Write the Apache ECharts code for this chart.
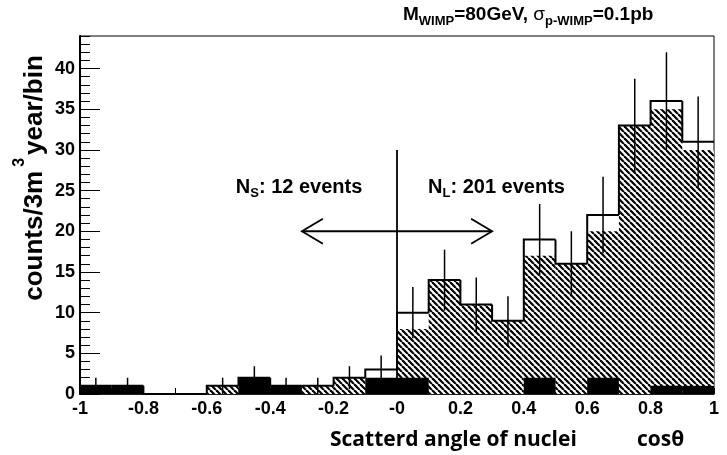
<!DOCTYPE html>
<html>
<head>
<meta charset="utf-8">
<script src="https://cdn.jsdelivr.net/npm/echarts@6/dist/echarts.min.js"></script>
<style>
  html, body { margin: 0; padding: 0; background: #fff; }
  #chart { width: 727px; height: 455px; }
</style>
</head>
<body>
<div id="chart"></div>
<script>
// Histogram bins in cos(theta): lower edges, all 0.1 wide
const binEdges = [-1, -0.9, -0.8, -0.7, -0.6, -0.5, -0.4, -0.3, -0.2, -0.1,
                  0, 0.1, 0.2, 0.3, 0.4, 0.5, 0.6, 0.7, 0.8, 0.9];
const binWidth = 0.1;

// Expected counts per bin (total = signal + background)
const totalCounts      = [1, 1, 0, 0, 1, 2, 1, 1, 2, 3, 10, 14, 11, 9, 19, 16, 22, 33, 36, 31];
const signalCounts     = [0, 0, 0, 0, 1, 0, 0, 1, 2, 1, 8, 14, 11, 9, 17, 16, 20, 33, 35, 30];
const backgroundCounts = [1, 1, 0, 0, 0, 2, 1, 0, 0, 2, 2, 0, 0, 0, 2, 0, 2, 0, 1, 1];

// Axis ticks
const xTickValues = [-1, -0.8, -0.6, -0.4, -0.2, 0, 0.2, 0.4, 0.6, 0.8, 1];
const xTickLabels = ['-1', '-0.8', '-0.6', '-0.4', '-0.2', '-0', '0.2', '0.4', '0.6', '0.8', '1'];
const yMajorTicks = [0, 5, 10, 15, 20, 25, 30, 35, 40];

// Forward / backward split annotation
const cutX = 0;
const cutTop = 30;
const arrowSpan = [-0.3, 0.3];
const arrowLevel = 20;
const nsLabelAt = [-0.309, 25.4];
const nlLabelAt = [0.314, 25.4];

const FONT = "'Liberation Sans', Arial, Helvetica, sans-serif";
const NAME_FONT = "'Open Sans', Lato, sans-serif";

// diagonal "\" hatching used for the signal component
function hatchPattern() {
  const size = 6;
  const cv = document.createElement('canvas');
  cv.width = size; cv.height = size;
  const ctx = cv.getContext('2d');
  ctx.fillStyle = '#fff';
  ctx.fillRect(0, 0, size, size);
  ctx.strokeStyle = '#000';
  ctx.lineWidth = 2.2;
  for (const off of [-size, 0, size]) {
    ctx.beginPath();
    ctx.moveTo(off, 0);
    ctx.lineTo(off + size, size);
    ctx.stroke();
  }
  return { image: cv, repeat: 'repeat' };
}
const hatch = hatchPattern();

function barRenderer(fill) {
  return function (params, api) {
    const lo = api.value(0), v = api.value(1);
    if (!v) return null;
    const p0 = api.coord([lo, 0]);
    const p1 = api.coord([lo + binWidth, v]);
    return {
      type: 'rect',
      shape: { x: p0[0], y: p1[1], width: p1[0] - p0[0], height: p0[1] - p1[1] },
      style: { fill: fill }
    };
  };
}

const chart = echarts.init(document.getElementById('chart'), null, { renderer: 'canvas' });

chart.setOption({
  animation: false,
  backgroundColor: '#fff',
  grid: {
    left: 80, right: 13, top: 36, bottom: 61,
    show: true, borderColor: '#000', borderWidth: 1, backgroundColor: 'transparent'
  },
  xAxis: {
    type: 'value',
    min: -1, max: 1, interval: 0.2,
    axisLine: { show: true, onZero: false, lineStyle: { color: '#000', width: 1.5 } },
    axisTick: { show: true, inside: true, length: 6, lineStyle: { color: '#000', width: 1 } },
    minorTick: { show: true, splitNumber: 2, length: 6, lineStyle: { color: '#000', width: 1 } },
    splitLine: { show: false },
    axisLabel: {
      color: '#000', fontFamily: FONT, fontWeight: 'bold', fontSize: 18, margin: 6,
      formatter: function (v) {
        const k = xTickValues.findIndex(t => Math.abs(t - v) < 1e-6);
        return k >= 0 ? xTickLabels[k] : '';
      }
    }
  },
  yAxis: [
    {
      type: 'value',
      min: 0, max: 44, interval: 5,
      position: 'left',
      axisLine: { show: true, onZero: false, lineStyle: { color: '#000', width: 2 } },
      axisTick: { show: true, inside: true, length: 20, customValues: yMajorTicks, lineStyle: { color: '#000', width: 1 } },
      splitLine: { show: false },
      axisLabel: {
        color: '#000', fontFamily: FONT, fontWeight: 'bold', fontSize: 18, margin: 5,
        customValues: yMajorTicks
      }
    },
    {
      type: 'value',
      min: 0, max: 44, interval: 1,
      position: 'left', offset: 0,
      axisLine: { show: false, onZero: false },
      axisTick: { show: true, inside: true, length: 10, lineStyle: { color: '#000', width: 1 } },
      splitLine: { show: false },
      axisLabel: { show: false }
    }
  ],
  graphic: [
    {
      type: 'text', left: 403, top: 5,
      style: {
        text: '{m|M}{s|WIMP}{m|=80GeV, }{g|σ}{s|p-WIMP}{m|=0.1pb}',
        rich: {
          m: { fontFamily: FONT, fontWeight: 'bold', fontSize: 19, lineHeight: 27, verticalAlign: 'middle', fill: '#000' },
          g: { fontFamily: FONT, fontSize: 19, lineHeight: 27, verticalAlign: 'middle', fill: '#000' },
          s: { fontFamily: FONT, fontWeight: 'bold', fontSize: 13, lineHeight: 13, verticalAlign: 'bottom', fill: '#000' }
        }
      }
    },
    {
      type: 'text', x: 30, y: 178, rotation: Math.PI / 2,
      style: {
        text: '{t|counts/3m}{p|3}{t|year/bin}',
        align: 'center', verticalAlign: 'middle',
        rich: {
          t: { fontFamily: FONT, fontWeight: 'bold', fontSize: 26, lineHeight: 36, verticalAlign: 'bottom', fill: '#000' },
          p: { fontFamily: FONT, fontWeight: 'bold', fontSize: 16, lineHeight: 16, verticalAlign: 'top', padding: [0, 3, 0, 4], fill: '#000' }
        }
      }
    },
    {
      type: 'text', left: 330, top: 430,
      style: {
        text: 'Scatterd angle of nuclei',
        fontFamily: NAME_FONT, fontWeight: 'bold', fontSize: 21, fill: '#000'
      }
    },
    {
      type: 'text', left: 637, top: 430,
      style: {
        text: 'cosθ',
        fontFamily: NAME_FONT, fontWeight: 'bold', fontSize: 21, fill: '#000'
      }
    }
  ],
  series: [
    {
      // signal component, hatched
      type: 'custom',
      xAxisIndex: 0, yAxisIndex: 0,
      renderItem: barRenderer(hatch),
      data: binEdges.map((e, i) => [e, signalCounts[i]])
    },
    {
      // background component, solid black
      type: 'custom',
      xAxisIndex: 0, yAxisIndex: 0,
      renderItem: barRenderer('#000'),
      data: binEdges.map((e, i) => [e, backgroundCounts[i]])
    },
    {
      // total histogram outline
      type: 'custom',
      xAxisIndex: 0, yAxisIndex: 0,
      renderItem: function (params, api) {
        const lo = api.value(0), v = api.value(1), prev = api.value(2);
        const a = api.coord([lo, prev]);
        const b = api.coord([lo, v]);
        const c = api.coord([lo + binWidth, v]);
        return {
          type: 'polyline',
          shape: { points: [a, b, c] },
          style: { stroke: '#000', lineWidth: 2, fill: null }
        };
      },
      data: binEdges.map((e, i) => [e, totalCounts[i], i > 0 ? totalCounts[i - 1] : 0])
    },
    {
      // Poisson error bars on the total
      type: 'custom',
      xAxisIndex: 0, yAxisIndex: 0,
      renderItem: function (params, api) {
        const lo = api.value(0), v = api.value(1);
        if (!v) return null;
        const err = Math.sqrt(v);
        const xc = lo + binWidth / 2;
        const top = api.coord([xc, v + err]);
        const bot = api.coord([xc, Math.max(0, v - err)]);
        return {
          type: 'line',
          shape: { x1: top[0], y1: top[1], x2: bot[0], y2: bot[1] },
          style: { stroke: '#000', lineWidth: 1.5 }
        };
      },
      data: binEdges.map((e, i) => [e, totalCounts[i]])
    },
    {
      // split line at cos = 0 with the two-way arrow and event counts
      type: 'custom',
      xAxisIndex: 0, yAxisIndex: 0,
      renderItem: function (params, api) {
        const c0 = api.coord([cutX, 0]);
        const c1 = api.coord([cutX, cutTop]);
        const L = api.coord([arrowSpan[0], arrowLevel]);
        const R = api.coord([arrowSpan[1], arrowLevel]);
        const hx = 21, hy = 12.5;
        const ns = api.coord(nsLabelAt);
        const nl = api.coord(nlLabelAt);
        const stroke = { stroke: '#000', lineWidth: 1.8, fill: null };
        const labelRich = {
          n: { fontFamily: FONT, fontWeight: 'bold', fontSize: 20, lineHeight: 26, verticalAlign: 'middle', fill: '#000' },
          s: { fontFamily: FONT, fontWeight: 'bold', fontSize: 13, lineHeight: 13, verticalAlign: 'bottom', fill: '#000' }
        };
        return {
          type: 'group',
          children: [
            { type: 'line', shape: { x1: c0[0], y1: c0[1], x2: c1[0], y2: c1[1] }, style: stroke },
            { type: 'line', shape: { x1: L[0], y1: L[1], x2: R[0], y2: R[1] }, style: stroke },
            { type: 'polyline', shape: { points: [[L[0] + hx, L[1] - hy], L, [L[0] + hx, L[1] + hy]] }, style: stroke },
            { type: 'polyline', shape: { points: [[R[0] - hx, R[1] - hy], R, [R[0] - hx, R[1] + hy]] }, style: stroke },
            {
              type: 'text', x: ns[0], y: ns[1],
              style: { text: '{n|N}{s|S}{n|: 12 events}', align: 'center', verticalAlign: 'middle', rich: labelRich }
            },
            {
              type: 'text', x: nl[0], y: nl[1],
              style: { text: '{n|N}{s|L}{n|: 201 events}', align: 'center', verticalAlign: 'middle', rich: labelRich }
            }
          ]
        };
      },
      data: [[0]]
    }
  ]
});
</script>
</body>
</html>
